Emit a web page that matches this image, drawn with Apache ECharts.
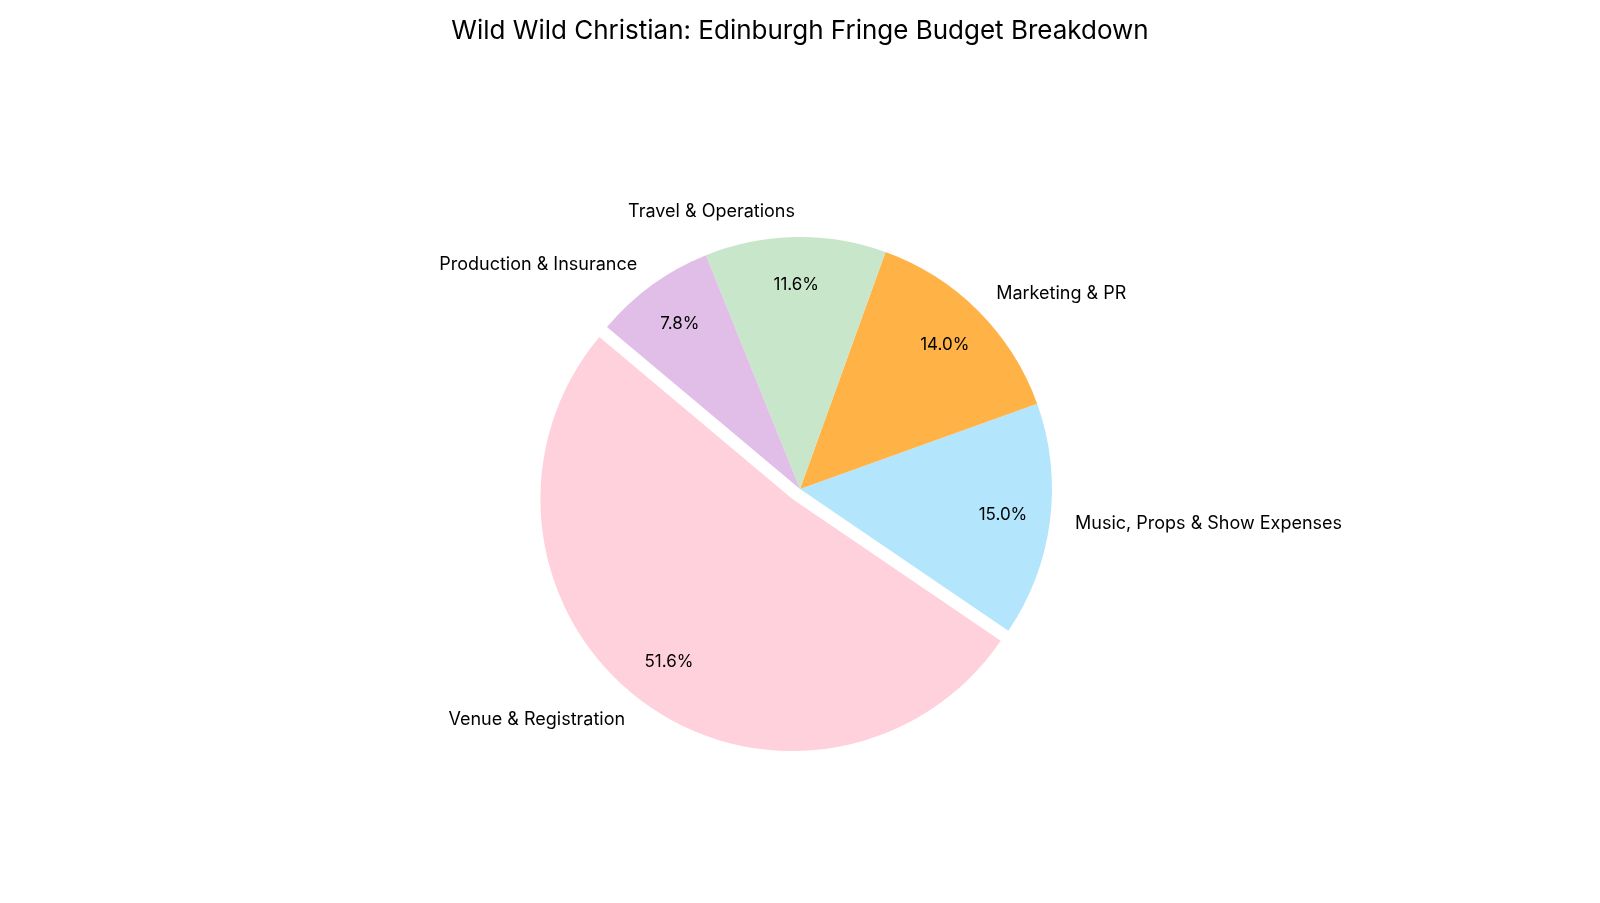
<!DOCTYPE html>
<html>
<head>
<meta charset="utf-8">
<title>Edinburgh Fringe Budget Breakdown</title>
<script src="https://cdn.jsdelivr.net/npm/echarts@6/dist/echarts.min.js"></script>
<style>
  html, body { margin: 0; padding: 0; background: #fff; }
  #chart { width: 1600px; height: 903px; }
</style>
</head>
<body>
<div id="chart"></div>
<script>
// budget share per category (percent)
const categories = ['Venue & Registration', 'Music, Props & Show Expenses', 'Marketing & PR', 'Travel & Operations', 'Production & Insurance'];
const shares = [51.6, 15.0, 14.0, 11.6, 7.8];
const sliceColors = ['#FFD1DC', '#B3E5FC', '#FFB347', '#C8E6C9', '#E1BEE7'];
const exploded = 'Venue & Registration';

const R = 252;          // pie radius in px
const FONT = 'Inter';

const chart = echarts.init(document.getElementById('chart'), null, { renderer: 'canvas' });

function buildData(withColor) {
  const out = [];
  for (let i = 0; i < categories.length; i++) {
    out.push({
      name: categories[i],
      value: shares[i],
      selected: categories[i] === exploded,
      itemStyle: { color: withColor ? sliceColors[i] : 'transparent' }
    });
  }
  return out;
}

const common = {
  type: 'pie',
  center: [800, 489],
  startAngle: 140,
  clockwise: false,
  selectedMode: 'single',
  selectedOffset: 12.6,
  avoidLabelOverlap: false,
  percentPrecision: 1,
  silent: true,
  animation: false,
  emphasis: { disabled: true }
};

const option = {
  backgroundColor: '#fff',
  title: {
    text: 'Wild Wild Christian: Edinburgh Fringe Budget Breakdown',
    left: 'center',
    top: 13,
    textStyle: { fontFamily: FONT, fontSize: 26, fontWeight: 'normal', color: '#000' }
  },
  series: [
    Object.assign({}, common, {
      name: 'slices',
      radius: [0, R],
      itemStyle: { borderWidth: 0 },
      label: {
        show: true,
        position: 'outside',
        formatter: '{b}',
        distanceToLabelLine: 0,
        fontFamily: FONT,
        fontSize: 18,
        color: '#000'
      },
      labelLine: { show: false, length: R * 0.1, length2: 0 },
      data: buildData(true)
    }),
    Object.assign({}, common, {
      name: 'pct',
      radius: [R * 0.6, R],
      itemStyle: { borderWidth: 0 },
      label: {
        show: true,
        position: 'inside',
        formatter: function (p) { return p.percent.toFixed(1) + '%'; },
        fontFamily: FONT,
        fontSize: 17,
        color: '#000'
      },
      labelLine: { show: false },
      data: buildData(false)
    })
  ]
};

chart.setOption(option);
</script>
</body>
</html>
